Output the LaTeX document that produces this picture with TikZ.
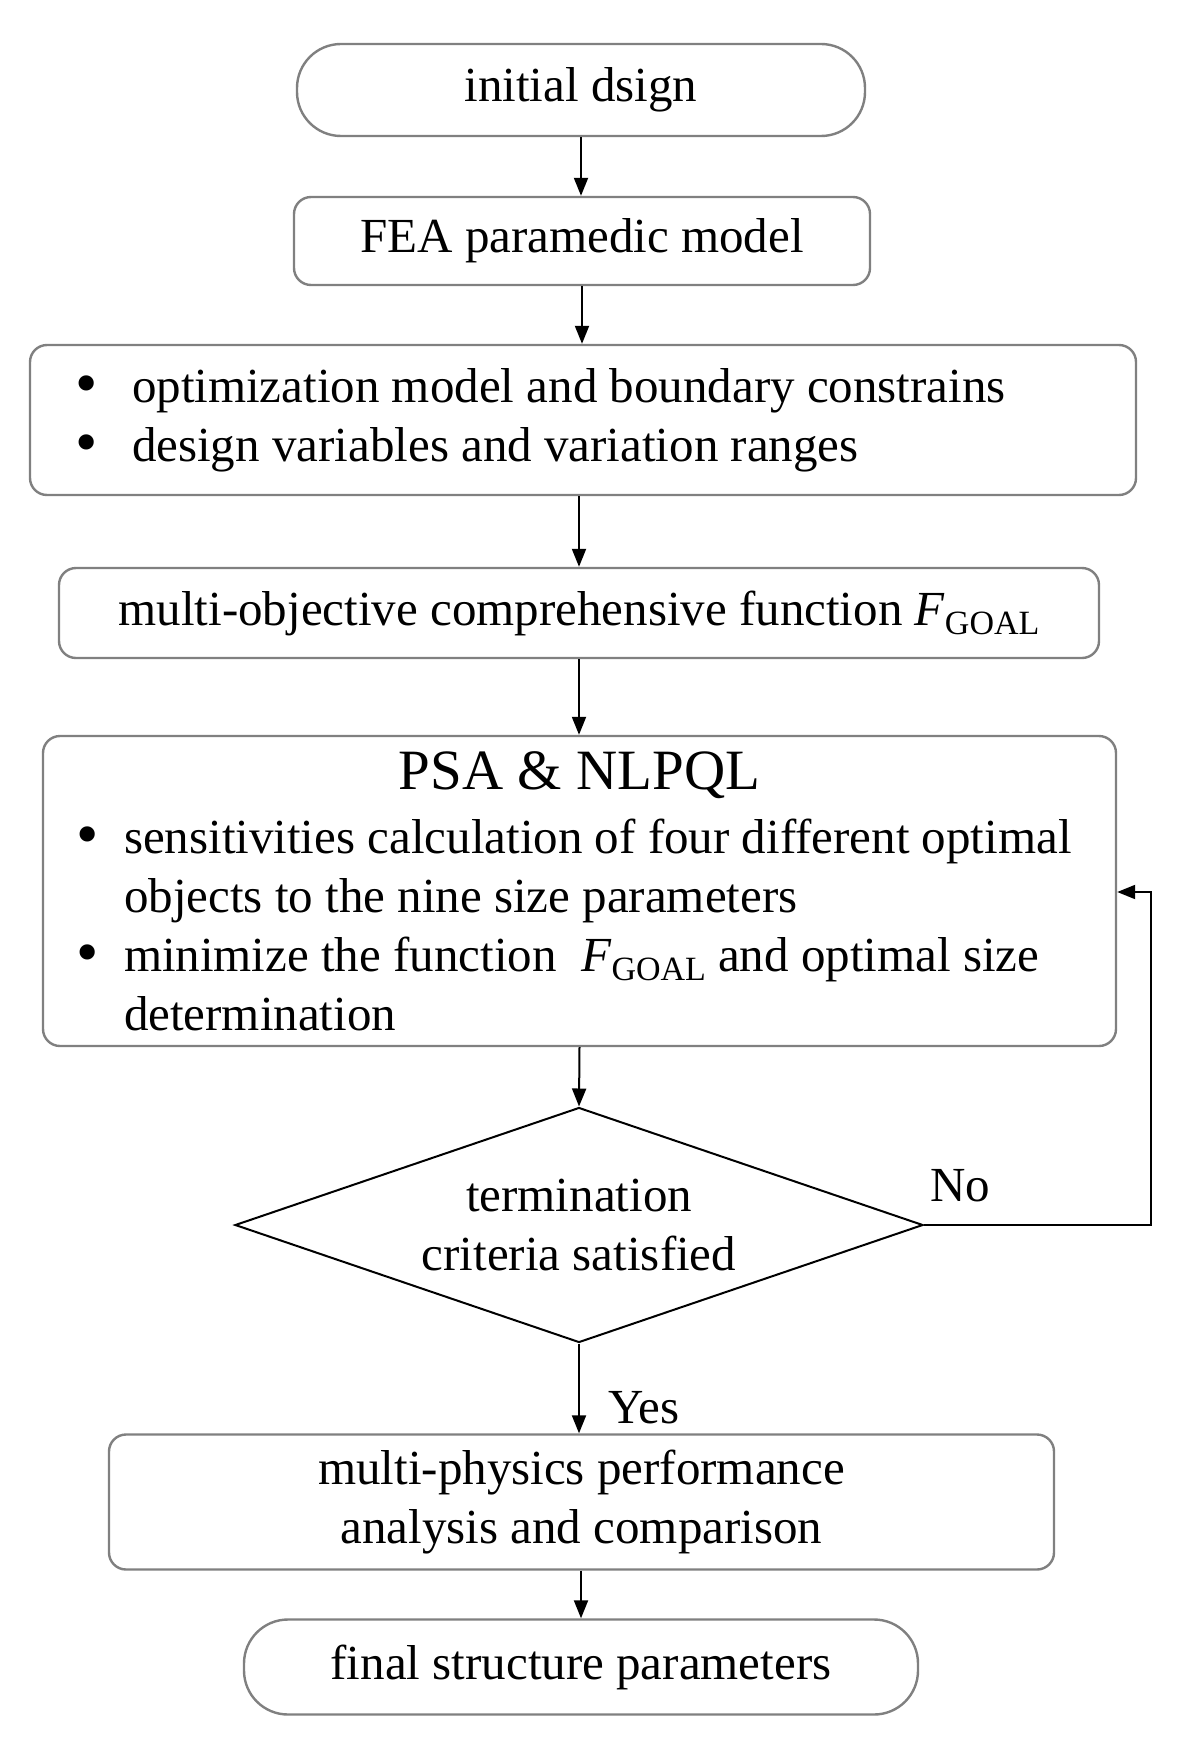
\documentclass[tikz,border=0pt]{standalone}
\usepackage{fontspec}
\setmainfont{Liberation Serif}
\usetikzlibrary{arrows.meta,shapes.geometric}
\newcommand{\sub}[1]{\raisebox{-9pt}{\fontsize{34}{34}\selectfont #1}}
\newcommand{\bigbul}{\smash{\raisebox{-2pt}{\scalebox{1.3}{\textbullet}}}}
\begin{document}
\begin{tikzpicture}[x=1pt,y=-1pt,
  box/.style={draw=black!50, line width=2.4pt, rounded corners=17pt, inner sep=0pt},
  stadium/.style={draw=black!50, line width=2.4pt, rounded corners=44pt, inner sep=0pt},
  arr/.style={draw=black, line width=2pt, -{Triangle[length=18pt,width=14pt]}},
  txt/.style={font=\fontsize{49}{59}\selectfont},
 ]
\fill[white] (0,0) rectangle (1192,1755);
\useasboundingbox (0,0) rectangle (1192,1755);

\node[stadium, txt, minimum width=568pt, minimum height=92pt] (n1) at (581,90) {initial dsign};
\node[box, txt, minimum width=576pt, minimum height=88pt] (n2) at (582,241) {FEA paramedic model};
\node[box, txt, minimum width=1106pt, minimum height=150pt, text width=1016pt, align=flush left] (n3) at (583,420)
  {\mbox{\makebox[57pt][l]{\bigbul}optimization model and boundary constrains}\\
   \mbox{\makebox[57pt][l]{\bigbul}design variables and variation ranges}};
\node[box, txt, minimum width=1040pt, minimum height=90pt] (n4) at (579,613)
  {multi-objective comprehensive function \textit{F}\sub{GOAL}};
\node[box, txt, minimum width=1073pt, minimum height=310pt, text width=1010pt, align=flush left] (n5) at (579.5,891)
  {{\fontsize{57}{59}\selectfont\hfill PSA \& NLPQL\hfill\null}\\[5pt]
   \mbox{\hspace*{2pt}\makebox[47.5pt][l]{\bigbul}sensitivities calculation of four different optimal}\\
   \mbox{\hspace*{49.5pt}objects to the nine size parameters}\\
   \mbox{\hspace*{2pt}\makebox[47.5pt][l]{\bigbul}minimize the function\ \ \textit{F}\sub{GOAL} and optimal size}\\
   \mbox{\hspace*{49.5pt}determination}};
\node[draw=black, line width=2pt, diamond, aspect=2.93, inner sep=0pt, minimum width=688pt, minimum height=235pt, txt, align=center] (d) at (579,1225)
  {termination\\criteria satisfied};
\node[box, txt, minimum width=945pt, minimum height=135pt, align=center] (n6) at (581.5,1502)
  {multi-physics performance\\analysis and comparison};
\node[stadium, txt, minimum width=674pt, minimum height=95pt] (n7) at (581,1667) {final structure parameters};

\node[txt] (no) at (960,1186) {No};
\node[txt] (yes) at (644,1408) {Yes};

\coordinate (fb) at (1151,892);

\draw[arr] (n1.south) -- (n1.south |- n2.north);
\draw[arr] (n2.south) -- (n2.south |- n3.north);
\draw[arr] (n4.north |- n3.south) -- (n4.north);
\draw[arr] (n4.south) -- (n4.south |- n5.north);
\draw[arr] (n5.south) -- (d.north);
\draw[arr] (d.south) -- (d.south |- n6.north);
\draw[arr] (n6.south -| n7.north) -- (n7.north);
\draw[arr] (d.east) -| (fb) -- (fb -| n5.east);
\end{tikzpicture}
\end{document}
